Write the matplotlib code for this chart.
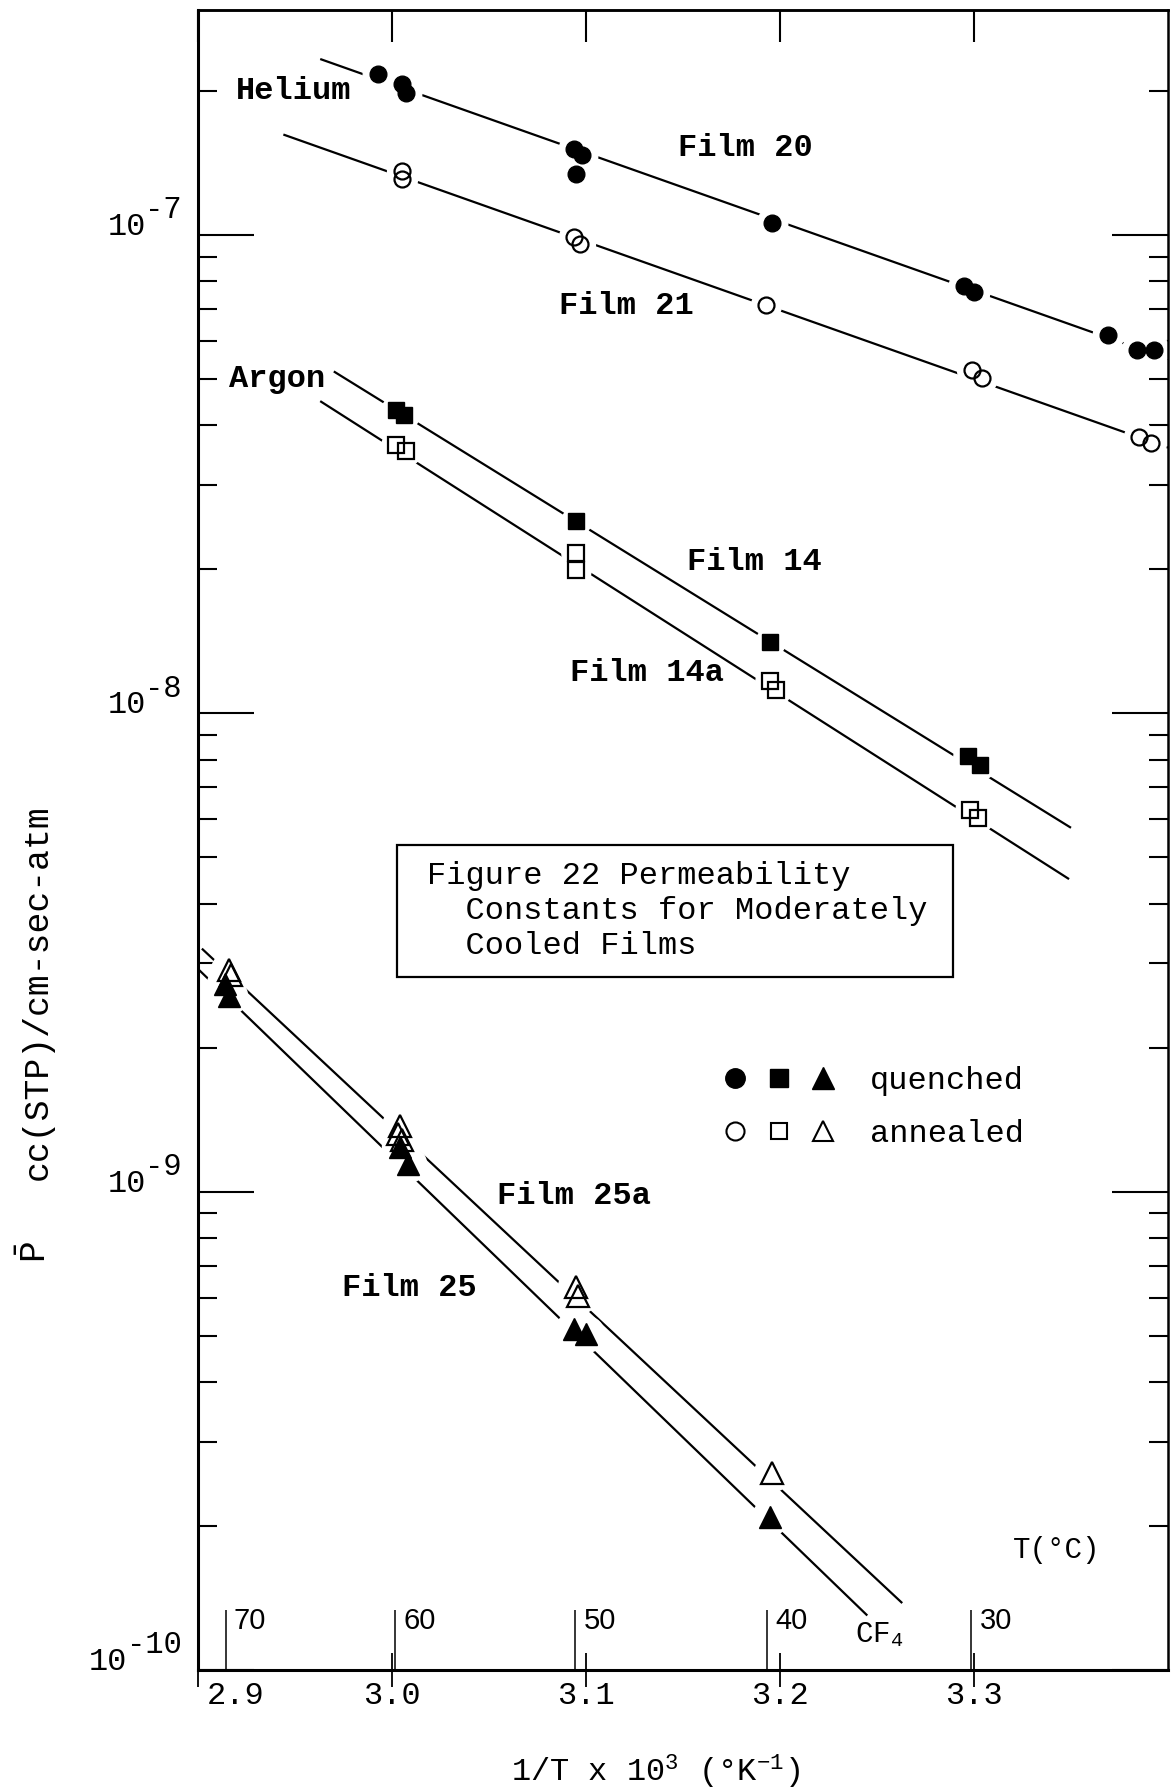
import numpy as np
import matplotlib
matplotlib.use('Agg')
import matplotlib.pyplot as plt
from matplotlib.ticker import LogLocator, NullFormatter
from matplotlib.legend_handler import HandlerTuple
from matplotlib.lines import Line2D
from matplotlib.patches import Rectangle
from matplotlib.transforms import ScaledTranslation

plt.rcParams['font.family'] = ['Liberation Mono', 'DejaVu Sans']
plt.rcParams['mathtext.fontset'] = 'custom'
plt.rcParams['mathtext.rm'] = 'Liberation Mono'
plt.rcParams['mathtext.it'] = 'Liberation Mono'
plt.rcParams['mathtext.bf'] = 'Liberation Mono:bold'

# ---- data (x = 1/T x 10^3, y = permeability) ----
# Helium, film 20 (quenched) and film 21 (annealed)
x20 = [2.993, 3.005, 3.007, 3.094, 3.098, 3.095, 3.196, 3.295, 3.300, 3.369, 3.384, 3.393]
y20 = [2.17e-7, 2.07e-7, 1.98e-7, 1.51e-7, 1.47e-7, 1.34e-7, 1.06e-7, 7.83e-8, 7.58e-8, 6.18e-8, 5.73e-8, 5.73e-8]
x21 = [3.005, 3.005, 3.094, 3.097, 3.193, 3.299, 3.304, 3.385, 3.391]
y21 = [1.36e-7, 1.31e-7, 9.87e-8, 9.55e-8, 7.13e-8, 5.22e-8, 5.02e-8, 3.78e-8, 3.67e-8]
# Argon, film 14 (quenched) and film 14a (annealed)
x14 = [3.002, 3.006, 3.095, 3.195, 3.297, 3.303]
y14 = [4.31e-8, 4.21e-8, 2.52e-8, 1.41e-8, 8.12e-9, 7.81e-9]
x14a = [3.002, 3.007, 3.095, 3.095, 3.195, 3.198, 3.298, 3.302]
y14a = [3.63e-8, 3.53e-8, 2.16e-8, 1.99e-8, 1.17e-8, 1.12e-8, 6.27e-9, 6.03e-9]
# CF4, film 25 (quenched) and film 25a (annealed)
x25 = [2.914, 2.916, 3.004, 3.008, 3.094, 3.100, 3.195]
y25 = [2.71e-9, 2.56e-9, 1.24e-9, 1.14e-9, 5.16e-10, 5.05e-10, 2.09e-10]
x25a = [2.916, 2.917, 3.004, 3.003, 3.005, 3.095, 3.096, 3.196]
y25a = [2.91e-9, 2.83e-9, 1.37e-9, 1.32e-9, 1.28e-9, 6.32e-10, 6.05e-10, 2.58e-10]

# hand drawn fit lines (end points)
fit20_x, fit20_y = [2.963, 3.40], [2.33e-7, 5.5e-8]
fit21_x, fit21_y = [2.944, 3.40], [1.62e-7, 3.59e-8]
fit14_x, fit14_y = [2.970, 3.350], [5.18e-8, 5.76e-9]
fit14a_x, fit14a_y = [2.963, 3.349], [4.49e-8, 4.5e-9]
fit25_x, fit25_y = [2.900, 3.245], [2.92e-9, 1.30e-10]
fit25a_x, fit25a_y = [2.902, 3.263], [3.22e-9, 1.38e-10]

x_ticks = [2.9, 3.0, 3.1, 3.2, 3.3]
x_ticklabels = ['2.9', '3.0', '3.1', '3.2', '3.3']
y_ticks = [1e-10, 1e-9, 1e-8, 1e-7]
y_exps = ['-10', '-9', '-8', '-7']
T_C = [70, 60, 50, 40, 30]

W, H = 1173, 1788


def fx(px):
    return px / W


def fy(py):
    return 1 - py / H


fig = plt.figure(figsize=(W / 100, H / 100), dpi=100)
ax = fig.add_axes([fx(198), fy(1670), 970 / W, 1660 / H])
ax.set_yscale('log')
ax.set_xlim(2.9, 3.4)
ax.set_ylim(1e-10, 2.95e-7)

# fit lines
for fxs, fys in [(fit20_x, fit20_y), (fit21_x, fit21_y), (fit14_x, fit14_y),
                 (fit14a_x, fit14a_y), (fit25_x, fit25_y), (fit25a_x, fit25a_y)]:
    ax.plot(fxs, fys, color='black', lw=1.6, zorder=2, solid_capstyle='butt')

series = [
    (x20, y20, 'o', 12, True),
    (x21, y21, 'o', 11.5, False),
    (x14, y14, 's', 11, True),
    (x14a, y14a, 's', 11, False),
    (x25, y25, '^', 16, True),
    (x25a, y25a, '^', 16, False),
]

# white gaps around the points, then the points
for xs, ys, m, s, filled in series:
    ax.plot(xs, ys, ls='none', marker='o', ms=s + 10, mfc='white', mec='white', zorder=2.2)
for xs, ys, m, s, filled in series:
    if filled:
        ax.plot(xs, ys, ls='none', marker=m, ms=s, mfc='black', mec='black', zorder=3)
    else:
        ax.plot(xs, ys, ls='none', marker=m, ms=s, mfc='none', mec='black', mew=1.6, zorder=3)

# axes styling
for side in ['left', 'bottom']:
    ax.spines[side].set_linewidth(2.2)
for side in ['top', 'right']:
    ax.spines[side].set_linewidth(1.8)

ax.set_yticks(y_ticks)
ax.yaxis.set_minor_locator(LogLocator(base=10, subs=np.arange(2, 10), numticks=20))
ax.yaxis.set_minor_formatter(NullFormatter())
ax.tick_params(axis='y', which='major', direction='in', length=40, width=1.5,
               left=True, right=True, labelleft=False)
ax.tick_params(axis='y', which='minor', direction='in', length=14, width=1.5,
               left=True, right=True)
# typewriter style decade labels: "10" with a raised exponent of similar size
for v, e in zip(y_ticks, y_exps):
    ax.annotate(e, (0, v), xycoords=ax.get_yaxis_transform(), xytext=(-12, 12),
                textcoords='offset points', ha='right', va='baseline', fontsize=22)
    ax.annotate('10', (0, v), xycoords=ax.get_yaxis_transform(),
                xytext=(-12 - 0.6 * 22 * len(e) + 1, 0),
                textcoords='offset points', ha='right', va='baseline', fontsize=23)

ax.set_xticks(x_ticks, x_ticklabels)
ax.tick_params(axis='x', which='major', direction='inout', length=24, width=1.3,
               labelsize=23, pad=-4)
first = ax.get_xticklabels()[0]
first.set_ha('left')
first.set_transform(first.get_transform() + ScaledTranslation(6 / 72, 0, fig.dpi_scale_trans))

top = ax.secondary_xaxis('top')
top.set_xticks(x_ticks)
top.tick_params(direction='in', length=23, width=1.5, labeltop=False)
top.spines['top'].set_linewidth(1.8)

# temperature scale along the bottom
inv_T = 1000 / (np.array(T_C) + 273.15)
ax.vlines(inv_T, 0, 0.036, transform=ax.get_xaxis_transform(), color='black', lw=1.1)
for t, xv in zip(T_C, inv_T):
    ax.annotate(str(t), (xv, 0.036), xycoords=ax.get_xaxis_transform(),
                xytext=(6, 2), textcoords='offset points', ha='left', va='top',
                fontsize=21, family='Liberation Sans')

# gas labels at ticks
ax.text(0.039, 2e-7, 'Helium', transform=ax.get_yaxis_transform(), ha='left', va='center',
        fontsize=23, weight='bold')
ax.text(0.032, 5e-8, 'Argon', transform=ax.get_yaxis_transform(), ha='left', va='center',
        fontsize=23, weight='bold')

# film labels
labels = [('Film 20', 678, 148), ('Film 21', 559, 306), ('Film 14', 687, 562),
          ('Film 14a', 570, 673), ('Film 25a', 497, 1196), ('Film 25', 342, 1288)]
for txt, px, py in labels:
    fig.text(fx(px), fy(py), txt, ha='left', va='center', fontsize=23, weight='bold')

fig.text(fx(1013), fy(1550), 'T(°C)', ha='left', va='center', fontsize=21)
fig.text(fx(855), fy(1642), 'CF$_4$', ha='left', va='baseline', fontsize=21)

# caption box
fig.add_artist(Rectangle((fx(397), fy(977)), (953 - 397) / W, (977 - 845) / H,
                         transform=fig.transFigure, fill=False, ec='black', lw=1.6))
fig.text(fx(427), fy(911), 'Figure 22 Permeability\n  Constants for Moderately\n  Cooled Films',
         ha='left', va='center', fontsize=23)

# legend
q = tuple(Line2D([], [], ls='none', marker=m, ms=s, mfc='black', mec='black')
          for m, s in [('o', 14), ('s', 13), ('^', 16)])
a = tuple(Line2D([], [], ls='none', marker=m, ms=s, mfc='none', mec='black', mew=1.5)
          for m, s in [('o', 13), ('s', 12), ('^', 15)])
ax.legend([q, a], ['quenched', 'annealed'],
          handler_map={tuple: HandlerTuple(ndivide=None, pad=0)},
          loc='center left', bbox_to_anchor=(fx(713), fy(1108)), bbox_transform=fig.transFigure,
          frameon=False, fontsize=23, handlelength=4.13, handletextpad=0.78,
          labelspacing=0.72, borderpad=0, borderaxespad=0)

# axis titles
fig.text(fx(37), fy(992), 'cc(STP)/cm-sec-atm', rotation=90, ha='center', va='center', fontsize=25)
fig.text(fx(36), fy(1252), r'$\bar{P}$', rotation=90, ha='center', va='center', fontsize=26)
fig.text(fx(655), fy(1772), r'1/T x 10$^3$ (°K$^{-1}$)', ha='center', va='center', fontsize=23)

fig.savefig('out.png', dpi=100)
